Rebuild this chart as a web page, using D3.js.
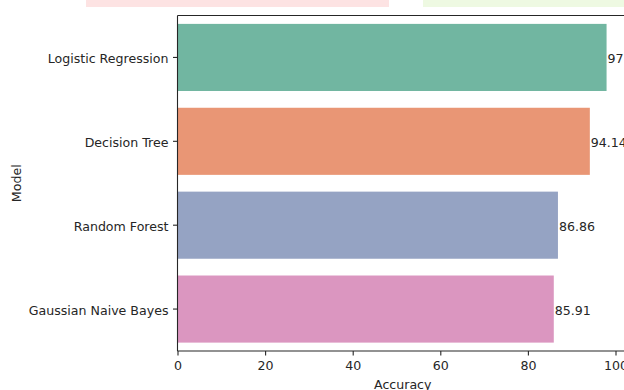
<!DOCTYPE html>
<html>
<head>
<meta charset="utf-8">
<script src="https://cdn.jsdelivr.net/npm/d3@7"></script>
<style>
  html, body { margin: 0; padding: 0; background: #fff; }
  svg { display: block; }
  text { font-family: "DejaVu Sans", sans-serif; fill: #262626; }
</style>
</head>
<body>
<svg id="chart" width="624" height="390"></svg>
<script>
const models = ["Logistic Regression", "Decision Tree", "Random Forest", "Gaussian Naive Bayes"];
const accuracy = [97.96, 94.14, 86.86, 85.91];
const labels = ["97.96", "94.14", "86.86", "85.91"];
const colors = ["#71b6a1", "#e99675", "#95a3c3", "#db96c0"];
const xTicks = [0, 20, 40, 60, 80, 100];

const svg = d3.select("#chart");
const fs = 12.6;
const mLeft = 177.5, mTop = 15.5, mBottom = 351;
const xMax = d3.max(accuracy) * 1.05;
const pxPerUnit = 4.38;
const mRight = mLeft + xMax * pxPerUnit;

// decorative bands at very top (part of figure above)
svg.append("rect").attr("x", 86).attr("y", 0).attr("width", 303).attr("height", 7).attr("fill", "#fde3e3");
svg.append("rect").attr("x", 423).attr("y", 0).attr("width", 201).attr("height", 7).attr("fill", "#eef9e2");

const x = d3.scaleLinear().domain([0, xMax]).range([mLeft, mRight]);
const y = d3.scaleBand().domain(models).range([mTop, mBottom]).paddingInner(0.2).paddingOuter(0.1);

svg.append("g").selectAll("rect").data(models).join("rect")
  .attr("x", x(0))
  .attr("y", d => y(d))
  .attr("width", (d, i) => x(accuracy[i]) - x(0))
  .attr("height", y.bandwidth())
  .attr("fill", (d, i) => colors[i]);

svg.append("g").selectAll("text").data(models).join("text")
  .attr("x", (d, i) => x(accuracy[i]) + 1)
  .attr("y", d => y(d) + y.bandwidth() / 2)
  .attr("dy", "0.45em")
  .attr("font-size", fs)
  .text((d, i) => labels[i]);

// spines
const sp = svg.append("g").attr("stroke", "#262626").attr("stroke-width", 1.1).attr("fill", "none");
sp.append("line").attr("x1", mLeft).attr("x2", mLeft).attr("y1", mTop).attr("y2", mBottom);
sp.append("line").attr("x1", mLeft).attr("x2", mRight).attr("y1", mTop).attr("y2", mTop);
sp.append("line").attr("x1", mLeft).attr("x2", mRight).attr("y1", mBottom).attr("y2", mBottom);
sp.append("line").attr("x1", mRight).attr("x2", mRight).attr("y1", mTop).attr("y2", mBottom);

const xAxis = d3.axisBottom(x).tickValues(xTicks).tickSize(4.5).tickPadding(5.5).tickFormat(d3.format("d"));
const gx = svg.append("g").attr("transform", `translate(0,${mBottom})`).call(xAxis);
gx.select(".domain").remove();
gx.selectAll("line").attr("stroke", "#262626").attr("stroke-width", 1.1);
gx.selectAll("text").attr("font-size", fs).attr("font-family", "DejaVu Sans").attr("fill", "#262626");

const yAxis = d3.axisLeft(y).tickSize(4.5).tickPadding(4.5);
const gy = svg.append("g").attr("transform", `translate(${mLeft},0)`).call(yAxis);
gy.select(".domain").remove();
gy.selectAll("line").attr("stroke", "#262626").attr("stroke-width", 1.1);
gy.selectAll("text").attr("font-size", fs).attr("font-family", "DejaVu Sans").attr("fill", "#262626")
  .attr("dy", "0.45em");

svg.append("text").attr("x", (mLeft + mRight) / 2).attr("y", 389).attr("text-anchor", "middle")
  .attr("font-size", fs).text("Accuracy");
svg.append("text").attr("transform", `translate(21,${(mTop + mBottom) / 2}) rotate(-90)`)
  .attr("text-anchor", "middle").attr("font-size", fs).text("Model");
</script>
</body>
</html>
